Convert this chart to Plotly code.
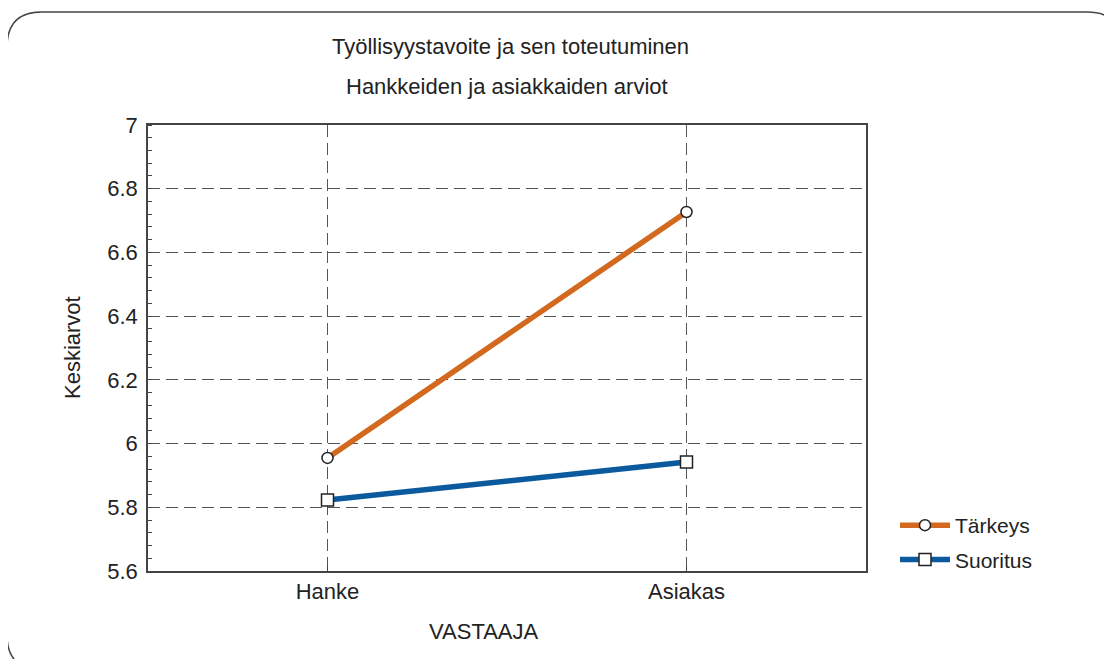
import plotly.graph_objects as go

categories = ["Hanke", "Asiakas"]
tarkeys = [5.955, 6.727]
suoritus = [5.823, 5.942]
series_names = ["Tärkeys", "Suoritus"]
y_ticks = [5.6, 5.8, 6.0, 6.2, 6.4, 6.6, 6.8, 7.0]
y_ticklabels = ["5.6", "5.8", "6", "6.2", "6.4", "6.6", "6.8", "7"]

OFF = 8  # default page body margin
W, H = 1112 - OFF, 659 - OFF
# plot area in screen pixels
SL, SR, ST, SB = 148, 866, 125, 571
L, R, T, B = SL - OFF, SR - OFF, ST - OFF, SB - OFF
FONT = "Liberation Sans, Arial, Helvetica, sans-serif"
TXT = "#222222"
FS = 22

def px(x):  # screen x -> paper
    return (x - SL) / (SR - SL)

def py(y):  # screen y -> paper
    return (SB - y) / (SB - ST)

fig = go.Figure()
fig.add_trace(go.Scatter(
    x=categories, y=tarkeys, name=series_names[0], mode="lines+markers", legendgroup="a",
    line=dict(color="#D2691E", width=5.5),
    marker=dict(symbol="circle", size=11, color="white", line=dict(color="#222222", width=1.5)),
))
fig.add_trace(go.Scatter(
    x=categories, y=suoritus, name=series_names[1], mode="lines+markers", legendgroup="b",
    line=dict(color="#0B5A9E", width=5.5),
    marker=dict(symbol="square", size=12, color="white", line=dict(color="#222222", width=1.5)),
))

# rounded frame
r = 35
x0, y0, x1, y1 = 7, 12, 1122, 670
path = (
    f"M {px(x0)},{py(y0 + r)} "
    f"L {px(x0)},{py(y1 - r)} Q {px(x0)},{py(y1)} {px(x0 + r)},{py(y1)} "
    f"L {px(x1 - r)},{py(y1)} Q {px(x1)},{py(y1)} {px(x1)},{py(y1 - r)} "
    f"L {px(x1)},{py(y0 + r)} Q {px(x1)},{py(y0)} {px(x1 - r)},{py(y0)} "
    f"L {px(x0 + r)},{py(y0)} Q {px(x0)},{py(y0)} {px(x0)},{py(y0 + r)} Z"
)
fig.add_shape(type="path", xref="paper", yref="paper", path=path,
              line=dict(color="#444444", width=1.5), layer="below")

def label(text, x, y, angle=0):
    fig.add_annotation(text=text, xref="paper", yref="paper", x=px(x), y=py(y),
                       xanchor="center", yanchor="middle", textangle=angle,
                       showarrow=False, font=dict(size=FS, color=TXT, family=FONT))

label("Työllisyystavoite ja sen toteutuminen", 510, 47)
label("Hankkeiden ja asiakkaiden arviot", 507, 87)
label("VASTAAJA", 484, 631)
label("Keskiarvot", 72, 348, -90)

minor_ticks = dict(dtick=0.04, tick0=5.6, ticks="inside", ticklen=4, tickcolor="#444444", showgrid=False)

fig.update_layout(
    width=W, height=H,
    margin=dict(l=L, r=W - R, t=T, b=H - B, autoexpand=False),
    paper_bgcolor="white", plot_bgcolor="white",
    font=dict(family=FONT, size=FS, color=TXT),
    showlegend=True,
    legend=dict(x=px(895), y=py(505), xanchor="left", yanchor="top",
                font=dict(size=21, color=TXT), bgcolor="rgba(0,0,0,0)",
                itemwidth=50, tracegroupgap=4),
    yaxis2=dict(overlaying="y", side="right", range=[5.6, 7.0], tickvals=y_ticks,
                showticklabels=False, ticks="", showgrid=False, zeroline=False,
                showline=False, minor=minor_ticks),
)
fig.update_xaxes(
    range=[-0.5, 1.5], showline=True, linecolor="#444444", linewidth=1.5, mirror=True,
    showgrid=True, gridcolor="#555555", griddash="12px,6px", gridwidth=1,
    ticks="inside", ticklen=5, tickcolor="#444444", tickfont=dict(size=FS, color=TXT),
    zeroline=False,
)
fig.update_yaxes(
    selector=dict(side="left"),
    range=[5.6, 7.0], tickvals=y_ticks, ticktext=y_ticklabels,
    showline=True, linecolor="#444444", linewidth=1.5, mirror=True,
    showgrid=True, gridcolor="#555555", griddash="12px,6px", gridwidth=1,
    ticks="", tickfont=dict(size=FS, color=TXT), ticklabelstandoff=4,
    minor=minor_ticks,
    zeroline=False,
)
fig.layout.yaxis.update(
    range=[5.6, 7.0], tickvals=y_ticks, ticktext=y_ticklabels,
    showline=True, linecolor="#444444", linewidth=1.5, mirror=True,
    showgrid=True, gridcolor="#555555", griddash="12px,6px", gridwidth=1,
    ticks="", tickfont=dict(size=FS, color=TXT), ticklabelstandoff=4,
    minor=minor_ticks, zeroline=False,
)

fig.write_html("out.html")
